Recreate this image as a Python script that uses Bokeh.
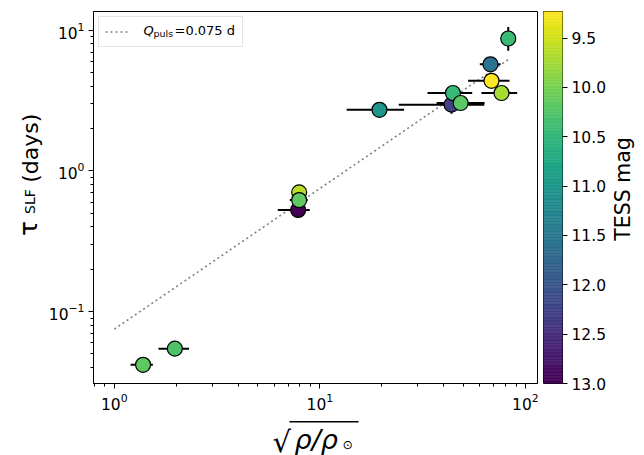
import math

from bokeh.embed import file_html
from bokeh.layouts import column, row
from bokeh.models import (ColumnDataSource, FixedTicker, Label, Legend, LegendItem,
                          LinearColorMapper, PrintfTickFormatter, Range1d)
from bokeh.palettes import Viridis256
from bokeh.plotting import figure
from bokeh.resources import INLINE
from bokeh.transform import transform

# sqrt(rho / rho_sun) with its lower / upper bounds
rho_sqrt = [1.38, 1.97, 7.84, 7.93, 7.93, 19.5, 43.7, 44.4, 48.4, 67.6, 68.4, 76.5, 82.5]
rho_lo = [1.20, 1.64, 6.24, 7.93, 7.14, 13.5, 24.2, 33.4, 37.0, 60.0, 52.6, 61.1, 82.5]
rho_hi = [1.54, 2.31, 8.93, 7.93, 8.73, 25.7, 63.1, 55.1, 63.3, 75.7, 83.7, 91.2, 82.5]

# characteristic time of the stochastic low-frequency variability (days)
tau_slf = [0.0418, 0.0545, 0.528, 0.704, 0.621, 2.72, 2.96, 3.58, 3.04, 5.73, 4.37, 3.58, 8.74]
tau_lo = [0.0418, 0.0545, 0.528, 0.704, 0.621, 2.72, 2.55, 3.58, 3.04, 5.73, 4.37, 3.15, 7.14]
tau_hi = [0.0418, 0.0545, 0.528, 0.704, 0.621, 2.72, 3.35, 3.58, 3.04, 5.73, 4.37, 3.90, 10.55]

tess_mag = [10.17, 10.29, 13.0, 9.62, 10.15, 11.0, 12.25, 10.47, 10.2, 11.57, 9.23, 9.72, 10.43]

q_puls = 0.075  # days
mag_ticks = [9.5, 10.0, 10.5, 11.0, 11.5, 12.0, 12.5, 13.0]

FONT = "DejaVu Sans"
TICK_PX = "15.5px"
TOP_H = 419          # height of the upper row (plot + colour bar)
BOT_H = 455 - TOP_H  # strip holding the x-axis label

mag_lo, mag_hi = min(tess_mag), max(tess_mag)
palette = list(reversed(Viridis256))  # bright stars yellow, faint stars purple
mapper = LinearColorMapper(palette=palette, low=mag_lo, high=mag_hi)

src = ColumnDataSource(dict(x=rho_sqrt, xlo=rho_lo, xhi=rho_hi,
                            y=tau_slf, ylo=tau_lo, yhi=tau_hi, mag=tess_mag))


def text_panel(w, h):
    """Blank canvas in pixel coordinates (y downwards) used for axis titles."""
    f = figure(width=w, height=h, x_range=Range1d(0, w), y_range=Range1d(h, 0),
               output_backend="svg", toolbar_location=None, min_border=0)
    f.axis.visible = False
    f.grid.visible = False
    f.outline_line_color = None
    f.background_fill_color = "white"
    f.border_fill_color = "white"
    return f


def put(f, text, x, y, size, style="normal", angle=0.0, align="left", units="data"):
    f.add_layout(Label(x=x, y=y, x_units=units, y_units=units, text=text,
                       text_font=FONT, text_font_size=size, text_font_style=style,
                       text_color="black", angle=angle, text_align=align,
                       text_baseline="alphabetic"))


# ---------------- main panel ----------------
p = figure(width=496, height=TOP_H, x_axis_type="log", y_axis_type="log",
           x_range=Range1d(0.792, 114.5), y_range=Range1d(0.0308, 13.6),
           output_backend="svg", toolbar_location=None,
           min_border_left=49, min_border_right=3, min_border_top=11,
           min_border_bottom=TOP_H - 386)
p.background_fill_color = "white"
p.border_fill_color = "white"
p.outline_line_color = "black"
p.outline_line_width = 1
p.grid.visible = False

p.xaxis.ticker = FixedTicker(
    ticks=[1, 10, 100],
    minor_ticks=[0.8, 0.9] + [k for k in range(2, 10)] + [10 * k for k in range(2, 10)])
p.yaxis.ticker = FixedTicker(
    ticks=[0.1, 1, 10],
    minor_ticks=[0.01 * k for k in range(4, 10)] + [0.1 * k for k in range(2, 10)]
    + [k for k in range(2, 10)])
for ax in (p.xaxis, p.yaxis):
    ax.axis_line_color = "black"
    ax.major_tick_line_color = "black"
    ax.minor_tick_line_color = "black"
    ax.major_tick_in = 0
    ax.major_tick_out = 5
    ax.minor_tick_in = 0
    ax.minor_tick_out = 3
    ax.major_label_text_font = FONT
    ax.major_label_text_font_size = TICK_PX
    ax.major_label_text_color = "black"
    ax.major_label_standoff = 4
    ax.axis_label = None

# Q_puls relation: tau = Q_puls * sqrt(rho / rho_sun)
n = 60
lx0, lx1 = math.log10(1.0), math.log10(max(rho_sqrt))
line_x = [10 ** (lx0 + (lx1 - lx0) * i / (n - 1)) for i in range(n)]
line_y = [q_puls * v for v in line_x]
qline = p.line(line_x, line_y, line_color="gray", line_width=1.6, line_dash="2 3")

# error bars
p.segment(x0="xlo", y0="y", x1="xhi", y1="y", source=src, line_color="black", line_width=2)
p.segment(x0="x", y0="ylo", x1="x", y1="yhi", source=src, line_color="black", line_width=2)

# stars, coloured by TESS magnitude
p.scatter(x="x", y="y", source=src, size=15, marker="circle",
          fill_color=transform("mag", mapper), line_color="black", line_width=1.2)

# legend box and sample line; its text is set below with a proper subscript
legend = Legend(items=[LegendItem(label=" ", renderers=[qline])], location="top_left",
                margin=5, padding=6, glyph_width=23, glyph_height=17, label_height=17,
                label_width=93, label_standoff=15, spacing=0,
                border_line_color="#cccccc", border_line_width=1,
                background_fill_alpha=0.0, label_text_font_size="12px")
p.add_layout(legend)

FX, FY = 93, 386  # frame corner on the canvas
put(p, "Q", 143 - FX, FY - 33, "13px", style="italic", units="screen")
put(p, "puls", 153 - FX, FY - 36, "9.5px", units="screen")
put(p, "=0.075 d", 174 - FX, FY - 33, "13px", units="screen")

# ---------------- colour bar ----------------
cb = figure(width=70, height=TOP_H, x_range=Range1d(0, 1), y_range=Range1d(mag_hi, mag_lo),
            y_axis_location="right", output_backend="svg", toolbar_location=None,
            min_border_left=3, min_border_right=48, min_border_top=10,
            min_border_bottom=TOP_H - 383)
cb.background_fill_color = "white"
cb.border_fill_color = "white"
cb.grid.visible = False
cb.xaxis.visible = False
cb.outline_line_color = "black"
cb.outline_line_width = 1
nstep = len(palette)
edges = [mag_lo + (mag_hi - mag_lo) * i / nstep for i in range(nstep + 1)]
cb.quad(left=0, right=1, bottom=edges[:-1], top=edges[1:], fill_color=palette,
        line_color=palette, line_width=0.6)
cb.yaxis.ticker = FixedTicker(ticks=mag_ticks, minor_ticks=[])
cb.yaxis.formatter = PrintfTickFormatter(format="%.1f")
cb.yaxis.axis_line_color = None
cb.yaxis.major_tick_line_color = "black"
cb.yaxis.major_tick_in = 0
cb.yaxis.major_tick_out = 5
cb.yaxis.minor_tick_line_color = None
cb.yaxis.major_label_text_font = FONT
cb.yaxis.major_label_text_font_size = TICK_PX
cb.yaxis.major_label_text_color = "black"
cb.yaxis.major_label_standoff = 4
cb.yaxis.axis_label = None

# ---------------- axis titles ----------------
ylab = text_panel(44, TOP_H)
put(ylab, "τ", 27.5, 253, "25px", angle=math.pi / 2)
put(ylab, "SLF", 29, 228, "14px", angle=math.pi / 2)
put(ylab, "(days)", 29.5, 193, "22px", angle=math.pi / 2)

rlab = text_panel(34, TOP_H)
put(rlab, "TESS mag", 12.5, 200, "20.5px", angle=math.pi / 2, align="center")

xlab = text_panel(644, BOT_H)
y0 = TOP_H
put(xlab, "√", 272, 441 - y0, "29px")
put(xlab, "ρ/ρ", 294, 439 - y0, "27px", style="italic")
put(xlab, "⊙", 342, 444 - y0, "12.5px")
xlab.line([289, 358], [421.2 - y0, 421.2 - y0], line_color="black", line_width=1.4)

layout = column(row(ylab, p, cb, rlab), xlab)
open("out.html", "w").write(file_html(layout, INLINE))
